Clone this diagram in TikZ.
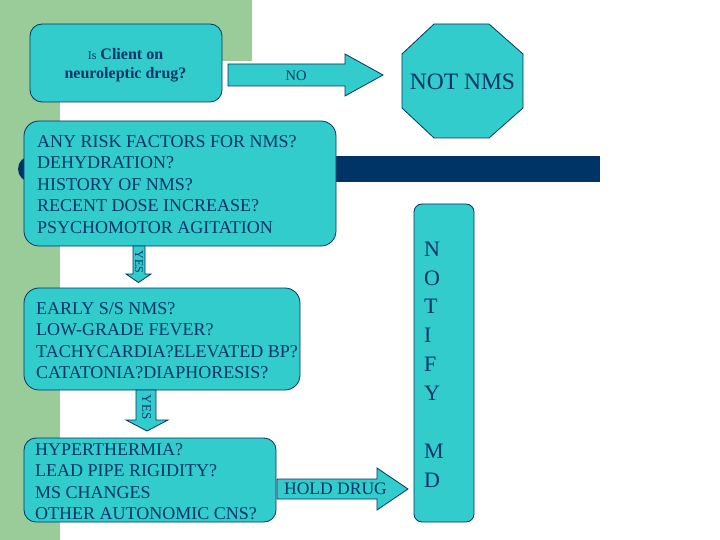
\documentclass[tikz,border=0pt]{standalone}
\usepackage{fontspec}
\setmainfont{Liberation Serif}
\definecolor{cy}{RGB}{51,204,204}
\definecolor{nv}{RGB}{0,51,102}
\definecolor{gr}{RGB}{153,204,153}
\tikzset{
  box/.style={draw=nv, fill=cy, line width=0.8pt, inner sep=0pt},
  txt/.style={text=nv, inner sep=0pt, align=left, font=\fontsize{18}{21.6}\selectfont},
  barrow/.style={draw=nv, fill=cy, line width=0.8pt, line join=miter},
  lbl/.style={text=nv, inner sep=0pt}
}
\begin{document}
\begin{tikzpicture}[x=1pt,y=-1pt]
\useasboundingbox (0,0) rectangle (720,540);
% background
\fill[gr] (0,0) rectangle (252,61);
\fill[gr] (0,0) rectangle (60,540);
\fill[nv] (31,156) rectangle (600,182);
\fill[nv] (31,169) circle[radius=13pt];
% box 1
\node[box, rounded corners=12pt, minimum width=192pt, minimum height=78pt] (q1) at (126,63) {};
\node[lbl, anchor=north, align=center, font=\fontsize{16}{19}\selectfont] (t1) at (125.5,48.5)
  {{\fontsize{12}{13}\selectfont Is} \textbf{Client on}\\\textbf{neuroleptic drug?}};
% NO arrow
\coordinate (noS) at (228,75);
\draw[barrow] (noS) ++(0,-11) -- (345,64) -- (345,54) -- (383,75) -- (345,96) -- (345,86) -- (228,86) -- cycle;
\node[lbl, font=\fontsize{14.5}{16}\selectfont] (no) at (296,75.5) {NO};
% octagon
\draw[box] (434,24) -- (489,24) -- (523,54) -- (523,108) -- (489,138) -- (434,138) -- (402,108) -- (402,54) -- cycle;
\node[lbl, font=\fontsize{23.5}{26}\selectfont] (notnms) at (462.5,82) {NOT NMS};
% box 2
\node[box, rounded corners=15pt, minimum width=312pt, minimum height=125pt] (q2) at (180,183.5) {};
\node[txt, anchor=north west] (t2) at (37,135)
  {ANY RISK FACTORS FOR NMS?\\DEHYDRATION?\\HISTORY OF NMS?\\RECENT DOSE INCREASE?\\PSYCHOMOTOR AGITATION};
% YES arrow 1
\draw[barrow] (133,246) -- (145,246) -- (145,274) -- (151,274) -- (138.5,282.5) -- (126,274) -- (133,274) -- cycle;
\node[lbl, rotate=-90, font=\fontsize{12}{14}\selectfont] (yes1) at (139,262) {YES};
% box 3
\node[box, rounded corners=15pt, minimum width=276pt, minimum height=102pt] (q3) at (162,339) {};
\node[txt, anchor=north west] (t3) at (36,302)
  {EARLY S/S NMS?\\LOW-GRADE FEVER?\\TACHYCARDIA?ELEVATED BP?\\CATATONIA?DIAPHORESIS?};
% YES arrow 2
\draw[barrow] (136,390) -- (156,390) -- (156,420) -- (168,420) -- (147,431) -- (126,420) -- (136,420) -- cycle;
\node[lbl, rotate=-90, font=\fontsize{13}{15}\selectfont] (yes2) at (146.5,407) {YES};
% box 4
\node[box, rounded corners=12pt, minimum width=252pt, minimum height=84pt] (q4) at (150,480) {};
\node[txt, anchor=north west] (t4) at (35,443)
  {HYPERTHERMIA?\\LEAD PIPE RIGIDITY?\\MS CHANGES\\OTHER AUTONOMIC CNS?};
% HOLD DRUG arrow
\draw[barrow] (277,479) -- (377,479) -- (377,468) -- (408,489) -- (377,510) -- (377,499) -- (277,499) -- cycle;
\node[lbl, font=\fontsize{17.5}{19}\selectfont] (hold) at (335.5,489) {HOLD DRUG};
% NOTIFY MD
\node[box, rounded corners=8pt, minimum width=60pt, minimum height=318pt] (notify) at (444,363) {};
\node[lbl, anchor=north west, align=left, font=\fontsize{22}{28.9}\selectfont] (tn) at (424,241.5)
  {N\\O\\T\\I\\F\\Y\\\mbox{}\\M\\D};
\end{tikzpicture}
\end{document}
